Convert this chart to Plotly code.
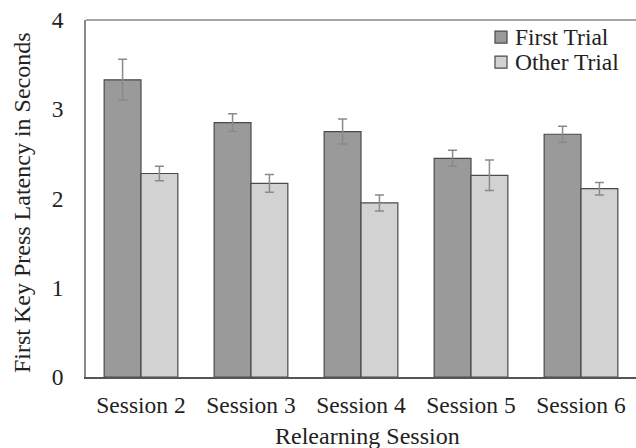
import plotly.graph_objects as go

sessions = ["Session 2", "Session 3", "Session 4", "Session 5", "Session 6"]
series_names = ["First Trial", "Other Trial"]
first_trial = [3.33, 2.85, 2.75, 2.45, 2.72]
first_err = [0.23, 0.10, 0.14, 0.09, 0.09]
other_trial = [2.28, 2.17, 1.95, 2.26, 2.11]
other_err = [0.08, 0.10, 0.09, 0.17, 0.07]
y_ticks = [0, 1, 2, 3, 4]
x_title = "Relearning Session"
y_title = "First Key Press Latency in Seconds"

FONT = "Liberation Serif"
TXT = "#222222"
fills = ["#9a9a9a", "#d2d2d2"]
EDGE = "#4a4a4a"

fig = go.Figure()
for name, vals, errs, col in zip(series_names, [first_trial, other_trial],
                                 [first_err, other_err], fills):
    fig.add_trace(go.Bar(
        name=name, x=sessions, y=vals,
        marker=dict(color=col, line=dict(color=EDGE, width=1.2)),
        error_y=dict(type="data", array=errs, color="#8a8a8a", thickness=1.5, width=4.5),
    ))

fig.update_layout(
    width=636, height=448,
    margin=dict(l=86, r=0, t=20, b=71),
    paper_bgcolor="white", plot_bgcolor="white",
    barmode="group", bargap=0.33, bargroupgap=0,
    font=dict(family=FONT, size=23.5, color=TXT),
    showlegend=False,
)
fig.update_xaxes(
    range=[-0.5, 4.5], showline=True, linecolor="#555555", linewidth=1.5,
    ticks="", showgrid=False, ticklabelstandoff=6, automargin=False,
    tickfont=dict(family=FONT, size=23.5),
)
fig.update_yaxes(
    range=[0, 4], tickvals=y_ticks, showline=True, linecolor="#888888", linewidth=1.5,
    ticks="", showgrid=False, zeroline=False, ticklabelstandoff=16, automargin=False,
    tickfont=dict(family=FONT, size=23.5),
)
fig.add_shape(type="line", xref="paper", yref="paper", x0=0, x1=1, y0=1, y1=1,
              line=dict(color="#888888", width=1.5))

# axis titles as annotations
fig.add_annotation(xref="paper", yref="paper", x=0.511, y=-0.165, text=x_title,
                   showarrow=False, xanchor="center", yanchor="middle",
                   font=dict(family=FONT, size=24, color=TXT))
fig.add_annotation(xref="paper", yref="paper", x=-0.1164, y=0.49, text=y_title,
                   showarrow=False, xanchor="center", yanchor="middle", textangle=-90,
                   font=dict(family=FONT, size=24, color=TXT))

# legend drawn as squares + text (paper coordinates)
leg_x0, leg_x1, leg_tx = 0.7436, 0.7655, 0.7764
leg_y = [0.952, 0.882]
half = 0.0168
for name, col, yc in zip(series_names, fills, leg_y):
    fig.add_shape(type="rect", xref="paper", yref="paper",
                  x0=leg_x0, x1=leg_x1, y0=yc - half, y1=yc + half,
                  fillcolor=col, line=dict(color=EDGE, width=1.2))
    fig.add_annotation(xref="paper", yref="paper", x=leg_tx, y=yc, text=name,
                       showarrow=False, xanchor="left", yanchor="middle",
                       font=dict(family=FONT, size=23.5, color=TXT))

fig.write_html("out.html", config={"displayModeBar": False},
               post_script="document.body.style.margin='0';")
